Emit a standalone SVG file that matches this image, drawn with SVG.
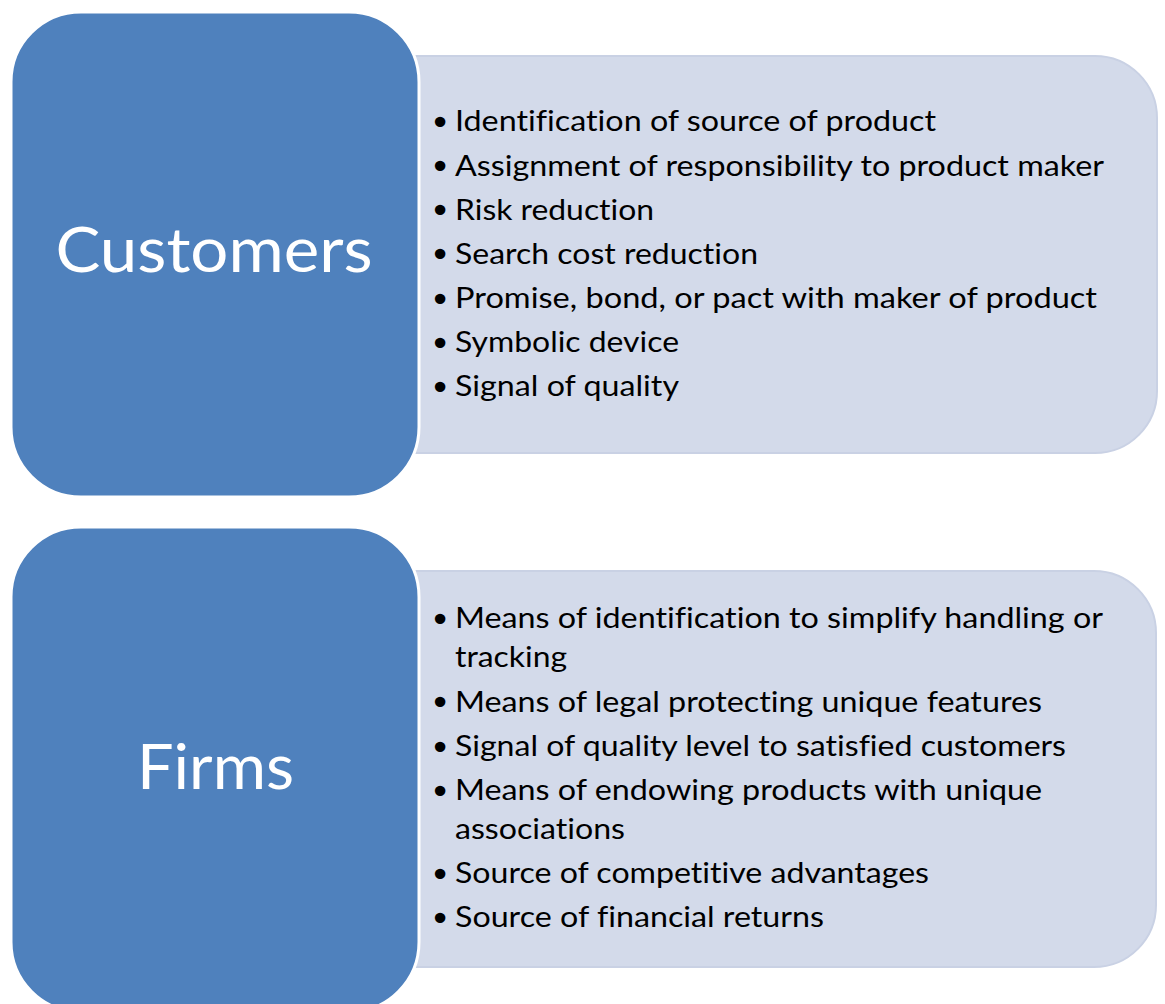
<svg xmlns="http://www.w3.org/2000/svg" width="1165" height="1004" viewBox="0 0 1165 1004">
<defs>
<style>
.panel{fill:#d3daea;stroke:#c9d1e4;stroke-width:2}
.head{fill:#4f81bd;stroke:#ffffff;stroke-width:3}
.title{font-family:Lato,"Open Sans",sans-serif;font-size:61px;fill:#ffffff;text-anchor:middle}
.item{font-family:Lato,"Open Sans",sans-serif;font-size:28.5px;fill:#000000;font-variant-ligatures:none;font-feature-settings:"liga" 0,"dlig" 0}
.bul{font-family:"DejaVu Sans",sans-serif;font-size:36px;fill:#000000;text-anchor:middle}
</style>
</defs>
<rect width="1165" height="1004" fill="#ffffff"/>

<g id="customers-panel">
<path class="panel" d="M400,56 H1095 A62,62 0 0 1 1157,118 V391 A62,62 0 0 1 1095,453 H400 Z"/>
<text class="bul" x="440" y="134.5">•</text><text class="item" x="455" y="131" textLength="481" lengthAdjust="spacingAndGlyphs">Identification of source of product</text>
<text class="bul" x="440" y="179">•</text><text class="item" x="455" y="175.5" textLength="649" lengthAdjust="spacingAndGlyphs">Assignment of responsibility to product maker</text>
<text class="bul" x="440" y="223">•</text><text class="item" x="455" y="219.5" textLength="199" lengthAdjust="spacingAndGlyphs">Risk reduction</text>
<text class="bul" x="440" y="267">•</text><text class="item" x="455" y="263.5" textLength="303" lengthAdjust="spacingAndGlyphs">Search cost reduction</text>
<text class="bul" x="440" y="311.5">•</text><text class="item" x="455" y="308" textLength="642" lengthAdjust="spacingAndGlyphs">Promise, bond, or pact with maker of product</text>
<text class="bul" x="440" y="355.5">•</text><text class="item" x="455" y="352" textLength="224" lengthAdjust="spacingAndGlyphs">Symbolic device</text>
<text class="bul" x="440" y="399.5">•</text><text class="item" x="455" y="396" textLength="224" lengthAdjust="spacingAndGlyphs">Signal of quality</text>
</g>

<g id="customers">
<rect class="head" x="11" y="12" width="408" height="485" rx="70" ry="70"/>
<text class="title" x="214" y="272" textLength="317" lengthAdjust="spacingAndGlyphs">Customers</text>
</g>

<g id="firms-panel">
<path class="panel" d="M400,571 H1094 A62,62 0 0 1 1156,633 V905 A62,62 0 0 1 1094,967 H400 Z"/>
<text class="bul" x="440" y="631.5">•</text><text class="item" x="455" y="628" textLength="648" lengthAdjust="spacingAndGlyphs">Means of identification to simplify handling or</text>
<text class="item" x="455" y="666.5" textLength="112" lengthAdjust="spacingAndGlyphs">tracking</text>
<text class="bul" x="440" y="715">•</text><text class="item" x="455" y="711.5" textLength="587" lengthAdjust="spacingAndGlyphs">Means of legal protecting unique features</text>
<text class="bul" x="440" y="759.5">•</text><text class="item" x="455" y="756" textLength="611" lengthAdjust="spacingAndGlyphs">Signal of quality level to satisfied customers</text>
<text class="bul" x="440" y="803.5">•</text><text class="item" x="455" y="800" textLength="587" lengthAdjust="spacingAndGlyphs">Means of endowing products with unique</text>
<text class="item" x="455" y="838.5" textLength="170" lengthAdjust="spacingAndGlyphs">associations</text>
<text class="bul" x="440" y="886.5">•</text><text class="item" x="455" y="883" textLength="474" lengthAdjust="spacingAndGlyphs">Source of competitive advantages</text>
<text class="bul" x="440" y="930.5">•</text><text class="item" x="455" y="927" textLength="369" lengthAdjust="spacingAndGlyphs">Source of financial returns</text>
</g>

<g id="firms">
<rect class="head" x="11" y="527" width="408" height="485" rx="70" ry="70"/>
<text class="title" x="215.5" y="789" textLength="157" lengthAdjust="spacingAndGlyphs">Firms</text>
</g>

<g id="connectors"></g>
</svg>
